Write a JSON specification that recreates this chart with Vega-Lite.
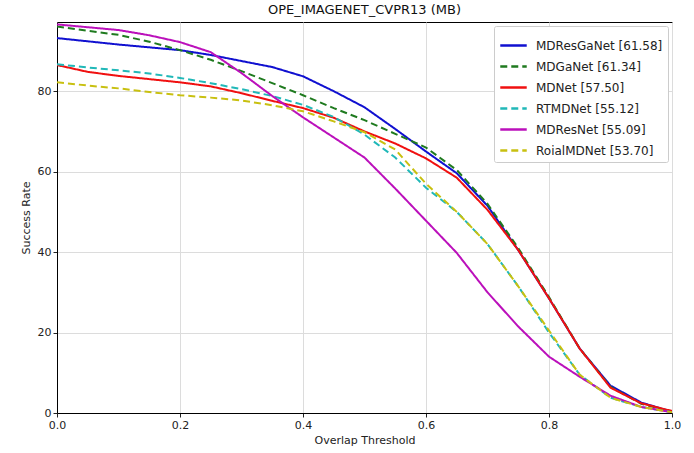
{
  "$schema": "https://vega.github.io/schema/vega-lite/v6.json",
  "width": 615,
  "height": 391,
  "autosize": {"type": "none"},
  "padding": {"left": 57, "top": 22, "right": 22, "bottom": 40},
  "background": "white",
  "title": {"text": "OPE_IMAGENET_CVPR13 (MB)", "fontSize": 13, "fontWeight": "normal", "font": "DejaVu Sans", "color": "#111", "offset": 5},
  "config": {
    "view": {"stroke": "black", "strokeWidth": 1},
    "font": "DejaVu Sans"
  },
  "datasets": {
    "curves": [
      {"m":"MDResGaNet [61.58]","x":0,"y":93.2},{"m":"MDResGaNet [61.58]","x":0.05,"y":92.4},{"m":"MDResGaNet [61.58]","x":0.1,"y":91.6},{"m":"MDResGaNet [61.58]","x":0.15,"y":90.9},{"m":"MDResGaNet [61.58]","x":0.2,"y":90.2},{"m":"MDResGaNet [61.58]","x":0.25,"y":89},{"m":"MDResGaNet [61.58]","x":0.3,"y":87.5},{"m":"MDResGaNet [61.58]","x":0.35,"y":86},{"m":"MDResGaNet [61.58]","x":0.4,"y":83.7},{"m":"MDResGaNet [61.58]","x":0.45,"y":80},{"m":"MDResGaNet [61.58]","x":0.5,"y":76},{"m":"MDResGaNet [61.58]","x":0.55,"y":70.6},{"m":"MDResGaNet [61.58]","x":0.6,"y":65},{"m":"MDResGaNet [61.58]","x":0.65,"y":59.6},{"m":"MDResGaNet [61.58]","x":0.7,"y":51.5},{"m":"MDResGaNet [61.58]","x":0.75,"y":40.5},{"m":"MDResGaNet [61.58]","x":0.8,"y":28.5},{"m":"MDResGaNet [61.58]","x":0.85,"y":16},{"m":"MDResGaNet [61.58]","x":0.9,"y":6.8},{"m":"MDResGaNet [61.58]","x":0.95,"y":2.6},{"m":"MDResGaNet [61.58]","x":1,"y":0.3},
      {"m":"MDGaNet [61.34]","x":0,"y":96.1},{"m":"MDGaNet [61.34]","x":0.05,"y":95},{"m":"MDGaNet [61.34]","x":0.1,"y":94},{"m":"MDGaNet [61.34]","x":0.15,"y":92.3},{"m":"MDGaNet [61.34]","x":0.2,"y":90.2},{"m":"MDGaNet [61.34]","x":0.25,"y":87.8},{"m":"MDGaNet [61.34]","x":0.3,"y":85},{"m":"MDGaNet [61.34]","x":0.35,"y":82},{"m":"MDGaNet [61.34]","x":0.4,"y":79},{"m":"MDGaNet [61.34]","x":0.45,"y":75.8},{"m":"MDGaNet [61.34]","x":0.5,"y":72.8},{"m":"MDGaNet [61.34]","x":0.55,"y":69.4},{"m":"MDGaNet [61.34]","x":0.6,"y":66},{"m":"MDGaNet [61.34]","x":0.65,"y":60.4},{"m":"MDGaNet [61.34]","x":0.7,"y":52},{"m":"MDGaNet [61.34]","x":0.75,"y":41},{"m":"MDGaNet [61.34]","x":0.8,"y":28.8},{"m":"MDGaNet [61.34]","x":0.85,"y":16},{"m":"MDGaNet [61.34]","x":0.9,"y":6.5},{"m":"MDGaNet [61.34]","x":0.95,"y":2.3},{"m":"MDGaNet [61.34]","x":1,"y":0.3},
      {"m":"MDNet [57.50]","x":0,"y":86.5},{"m":"MDNet [57.50]","x":0.05,"y":84.8},{"m":"MDNet [57.50]","x":0.1,"y":83.8},{"m":"MDNet [57.50]","x":0.15,"y":83},{"m":"MDNet [57.50]","x":0.2,"y":82.2},{"m":"MDNet [57.50]","x":0.25,"y":81.2},{"m":"MDNet [57.50]","x":0.3,"y":79.5},{"m":"MDNet [57.50]","x":0.35,"y":77.6},{"m":"MDNet [57.50]","x":0.4,"y":75.8},{"m":"MDNet [57.50]","x":0.45,"y":73.4},{"m":"MDNet [57.50]","x":0.5,"y":70},{"m":"MDNet [57.50]","x":0.55,"y":67},{"m":"MDNet [57.50]","x":0.6,"y":63.3},{"m":"MDNet [57.50]","x":0.65,"y":58.5},{"m":"MDNet [57.50]","x":0.7,"y":50.5},{"m":"MDNet [57.50]","x":0.75,"y":40.5},{"m":"MDNet [57.50]","x":0.8,"y":28.5},{"m":"MDNet [57.50]","x":0.85,"y":16},{"m":"MDNet [57.50]","x":0.9,"y":6.3},{"m":"MDNet [57.50]","x":0.95,"y":2.4},{"m":"MDNet [57.50]","x":1,"y":0.5},
      {"m":"RTMDNet [55.12]","x":0,"y":86.7},{"m":"RTMDNet [55.12]","x":0.05,"y":85.9},{"m":"RTMDNet [55.12]","x":0.1,"y":85.2},{"m":"RTMDNet [55.12]","x":0.15,"y":84.4},{"m":"RTMDNet [55.12]","x":0.2,"y":83.3},{"m":"RTMDNet [55.12]","x":0.25,"y":82},{"m":"RTMDNet [55.12]","x":0.3,"y":80.5},{"m":"RTMDNet [55.12]","x":0.35,"y":78.8},{"m":"RTMDNet [55.12]","x":0.4,"y":76.6},{"m":"RTMDNet [55.12]","x":0.45,"y":73.6},{"m":"RTMDNet [55.12]","x":0.5,"y":69.2},{"m":"RTMDNet [55.12]","x":0.55,"y":63.5},{"m":"RTMDNet [55.12]","x":0.6,"y":56},{"m":"RTMDNet [55.12]","x":0.65,"y":50},{"m":"RTMDNet [55.12]","x":0.7,"y":42},{"m":"RTMDNet [55.12]","x":0.75,"y":31.5},{"m":"RTMDNet [55.12]","x":0.8,"y":20},{"m":"RTMDNet [55.12]","x":0.85,"y":9.5},{"m":"RTMDNet [55.12]","x":0.9,"y":3.8},{"m":"RTMDNet [55.12]","x":0.95,"y":1.5},{"m":"RTMDNet [55.12]","x":1,"y":0.2},
      {"m":"MDResNet [55.09]","x":0,"y":96.6},{"m":"MDResNet [55.09]","x":0.05,"y":95.9},{"m":"MDResNet [55.09]","x":0.1,"y":95.2},{"m":"MDResNet [55.09]","x":0.15,"y":93.9},{"m":"MDResNet [55.09]","x":0.2,"y":92.2},{"m":"MDResNet [55.09]","x":0.25,"y":89.7},{"m":"MDResNet [55.09]","x":0.3,"y":84.5},{"m":"MDResNet [55.09]","x":0.35,"y":78.8},{"m":"MDResNet [55.09]","x":0.4,"y":73.5},{"m":"MDResNet [55.09]","x":0.45,"y":68.5},{"m":"MDResNet [55.09]","x":0.5,"y":63.5},{"m":"MDResNet [55.09]","x":0.55,"y":55.8},{"m":"MDResNet [55.09]","x":0.6,"y":47.8},{"m":"MDResNet [55.09]","x":0.65,"y":39.8},{"m":"MDResNet [55.09]","x":0.7,"y":30},{"m":"MDResNet [55.09]","x":0.75,"y":21.5},{"m":"MDResNet [55.09]","x":0.8,"y":14},{"m":"MDResNet [55.09]","x":0.85,"y":9},{"m":"MDResNet [55.09]","x":0.9,"y":4.3},{"m":"MDResNet [55.09]","x":0.95,"y":1.5},{"m":"MDResNet [55.09]","x":1,"y":0.2},
      {"m":"RoialMDNet [53.70]","x":0,"y":82.2},{"m":"RoialMDNet [53.70]","x":0.05,"y":81.4},{"m":"RoialMDNet [53.70]","x":0.1,"y":80.7},{"m":"RoialMDNet [53.70]","x":0.15,"y":79.8},{"m":"RoialMDNet [53.70]","x":0.2,"y":79},{"m":"RoialMDNet [53.70]","x":0.25,"y":78.4},{"m":"RoialMDNet [53.70]","x":0.3,"y":77.7},{"m":"RoialMDNet [53.70]","x":0.35,"y":76.5},{"m":"RoialMDNet [53.70]","x":0.4,"y":75},{"m":"RoialMDNet [53.70]","x":0.45,"y":72.5},{"m":"RoialMDNet [53.70]","x":0.5,"y":69.8},{"m":"RoialMDNet [53.70]","x":0.55,"y":65.5},{"m":"RoialMDNet [53.70]","x":0.6,"y":57},{"m":"RoialMDNet [53.70]","x":0.65,"y":50},{"m":"RoialMDNet [53.70]","x":0.7,"y":42},{"m":"RoialMDNet [53.70]","x":0.75,"y":31.5},{"m":"RoialMDNet [53.70]","x":0.8,"y":20.5},{"m":"RoialMDNet [53.70]","x":0.85,"y":9.5},{"m":"RoialMDNet [53.70]","x":0.9,"y":3.8},{"m":"RoialMDNet [53.70]","x":0.95,"y":1.5},{"m":"RoialMDNet [53.70]","x":1,"y":0.2}
    ]
  },
  "data": {"name": "curves"},
  "mark": {"type": "line", "strokeWidth": 2, "clip": true},
  "encoding": {
    "x": {
      "field": "x", "type": "quantitative",
      "scale": {"domain": [0, 1], "nice": false, "zero": false},
      "axis": {
        "title": "Overlap Threshold", "titleFontSize": 11, "titleFontWeight": "normal", "titleColor": "#222", "titlePadding": 4,
        "values": [0, 0.2, 0.4, 0.6, 0.8, 1.0], "format": ".1f",
        "labelFontSize": 11, "labelColor": "#222", "tickColor": "#222", "tickSize": 4,
        "domainColor": "black", "grid": true, "gridColor": "#dcdcdc", "labelFlush": false
      }
    },
    "y": {
      "field": "y", "type": "quantitative",
      "scale": {"domain": [0, 97.2], "nice": false, "zero": false},
      "axis": {
        "title": "Success Rate", "titleFontSize": 11, "titleFontWeight": "normal", "titleColor": "#222", "titlePadding": 6,
        "values": [0, 20, 40, 60, 80],
        "labelFontSize": 11, "labelColor": "#222", "tickColor": "#222", "tickSize": 4,
        "domainColor": "black", "grid": true, "gridColor": "#dcdcdc"
      }
    },
    "color": {
      "field": "m", "type": "nominal",
      "scale": {
        "domain": ["MDResGaNet [61.58]", "MDGaNet [61.34]", "MDNet [57.50]", "RTMDNet [55.12]", "MDResNet [55.09]", "RoialMDNet [53.70]"],
        "range": ["#1010d0", "#1f7a1f", "#f01010", "#20b8b8", "#bb10bb", "#c8c010"]
      },
      "legend": {
        "title": null, "orient": "top-right", "offset": 4,
        "symbolType": "stroke", "symbolSize": 700, "symbolStrokeWidth": 2.5,
        "labelFontSize": 12, "labelColor": "#222", "rowPadding": -8, "labelOffset": 8,
        "fillColor": "white", "strokeColor": "#cccccc", "padding": 5, "cornerRadius": 2
      }
    },
    "strokeDash": {
      "field": "m", "type": "nominal",
      "scale": {
        "domain": ["MDResGaNet [61.58]", "MDGaNet [61.34]", "MDNet [57.50]", "RTMDNet [55.12]", "MDResNet [55.09]", "RoialMDNet [53.70]"],
        "range": [[1, 0], [7, 4], [1, 0], [7, 4], [1, 0], [7, 4]]
      },
      "legend": {
        "title": null, "orient": "top-right", "offset": 4,
        "symbolType": "stroke", "symbolSize": 700, "symbolStrokeWidth": 2.5,
        "labelFontSize": 12, "labelColor": "#222", "rowPadding": -8, "labelOffset": 8,
        "fillColor": "white", "strokeColor": "#cccccc", "padding": 5, "cornerRadius": 2
      }
    }
  }
}
